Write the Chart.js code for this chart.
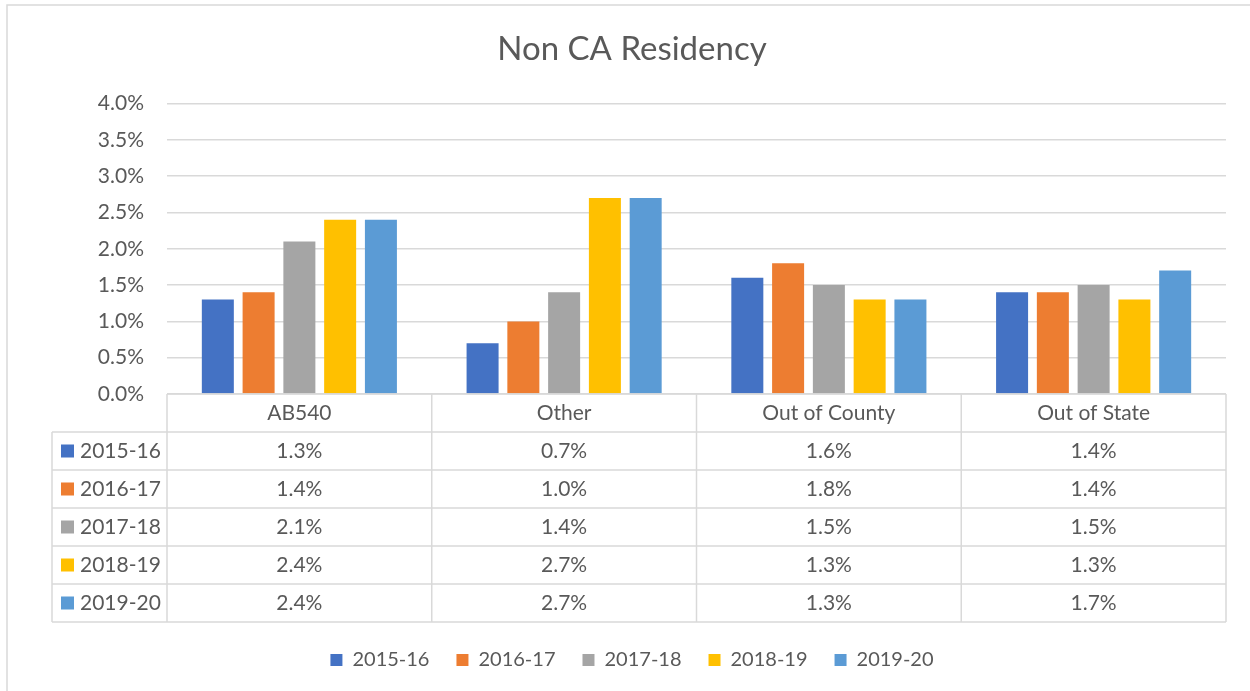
<!DOCTYPE html>
<html>
<head>
<meta charset="utf-8">
<title>Non CA Residency</title>
<script src="https://cdn.jsdelivr.net/npm/chart.js"></script>
<style>
  html, body { margin: 0; padding: 0; background: #fff; }
  #wrap { width: 1250px; height: 691px; position: relative; }
</style>
</head>
<body>
<div id="wrap"><canvas id="chartResidency"></canvas></div>
<script>
/** Data (values in percent) */
const categories = ['AB540', 'Other', 'Out of County', 'Out of State'];
const years = ['2015-16', '2016-17', '2017-18', '2018-19', '2019-20'];
const values1516 = [1.3, 0.7, 1.6, 1.4];
const values1617 = [1.4, 1.0, 1.8, 1.4];
const values1718 = [2.1, 1.4, 1.5, 1.5];
const values1819 = [2.4, 2.7, 1.3, 1.3];
const values1920 = [2.4, 2.7, 1.3, 1.7];
const colors = ['#4472C4', '#ED7D31', '#A5A5A5', '#FFC000', '#5B9BD5'];

const seriesValues = [values1516, values1617, values1718, values1819, values1920];
const textColor = '#595959';
const lineColor = '#d9d9d9';
const fontFamily = 'Lato, "Open Sans", sans-serif';

const fmt = v => v.toFixed(1) + '%';

/** 
 * Excel style data table under the plot area
 * uses the x scale to find every column
*/
const dataTablePlugin = {
    id: 'dataTable',
    beforeDraw(chart) {
        const ctx = chart.ctx;
        ctx.save();
        ctx.fillStyle = '#fff';
        ctx.fillRect(0, 0, chart.width, chart.height);
        // outer chart border (right / bottom fall outside the shot)
        ctx.strokeStyle = lineColor;
        ctx.lineWidth = 1.5;
        ctx.strokeRect(7, 5, chart.width + 20, chart.height + 20);
        ctx.restore();
    },
    afterDraw(chart) {
        const ctx = chart.ctx;
        const area = chart.chartArea;
        const xs = chart.scales.x;
        const rowH = 38;
        const top = area.bottom;
        const colW = (area.right - area.left) / categories.length;
        const leftX = 52;
        const bottom = top + rowH * (years.length + 1);

        ctx.save();
        ctx.strokeStyle = lineColor;
        ctx.lineWidth = 1.5;
        ctx.beginPath();
        ctx.moveTo(area.left, top);
        ctx.lineTo(area.right, top);
        for (let r = 1; r <= years.length + 1; r++) {
            const y = top + r * rowH;
            ctx.moveTo(leftX, y);
            ctx.lineTo(area.right, y);
        }
        ctx.moveTo(leftX, top + rowH);
        ctx.lineTo(leftX, bottom);
        for (let c = 0; c < categories.length; c++) {
            const x = xs.getPixelForValue(c) - colW / 2;
            ctx.moveTo(x, top);
            ctx.lineTo(x, bottom);
        }
        ctx.moveTo(area.right, top);
        ctx.lineTo(area.right, bottom);
        ctx.stroke();

        ctx.font = '21px ' + fontFamily;
        ctx.fillStyle = textColor;
        ctx.textBaseline = 'middle';
        ctx.textAlign = 'center';
        categories.forEach((cat, c) => {
            ctx.fillText(cat, xs.getPixelForValue(c), top + rowH / 2);
        });
        years.forEach((yr, r) => {
            const cy = top + rowH * (r + 1.5);
            ctx.fillStyle = colors[r];
            ctx.fillRect(61, cy - 6.5, 13, 13);
            ctx.fillStyle = textColor;
            ctx.textAlign = 'left';
            ctx.fillText(yr, 80, cy);
            ctx.textAlign = 'center';
            seriesValues[r].forEach((v, c) => {
                ctx.fillText(fmt(v), xs.getPixelForValue(c), cy);
            });
        });
        ctx.restore();
    }
};

const _chartResidency = document.getElementById('chartResidency');

new Chart(_chartResidency, {
    type: 'bar',
    data: {
        labels: categories,
        datasets: years.map((yr, i) => ({
            label: yr,
            data: seriesValues[i],
            backgroundColor: colors[i],
            borderWidth: 0,
            categoryPercentage: 0.77,
            barPercentage: 0.785
        }))
    },
    options: {
        responsive: true,
        maintainAspectRatio: false,
        animation: false,
        layout: {
            padding: { top: 0, right: 24, bottom: 11, left: 38 }
        },
        plugins: {
            title: {
                display: true,
                text: 'Non CA Residency',
                color: textColor,
                font: { family: fontFamily, size: 33, weight: 'normal' },
                padding: { top: 30, bottom: 34 }
            },
            legend: {
                position: 'bottom',
                labels: {
                    color: textColor,
                    font: { family: fontFamily, size: 20 },
                    boxWidth: 12,
                    boxHeight: 12,
                    padding: 27
                }
            },
            tooltip: { enabled: false }
        },
        scales: {
            x: {
                ticks: { display: false },
                grid: { display: false },
                border: { display: false },
                afterFit: s => { s.height = 229; }
            },
            y: {
                min: 0,
                max: 4,
                ticks: {
                    stepSize: 0.5,
                    padding: 23,
                    color: textColor,
                    font: { family: fontFamily, size: 21 },
                    callback: v => fmt(v)
                },
                grid: { color: lineColor, lineWidth: 1.5, drawTicks: false },
                border: { display: false },
                afterFit: s => { s.width = 129; }
            }
        }
    },
    plugins: [dataTablePlugin]
});
</script>
</body>
</html>
